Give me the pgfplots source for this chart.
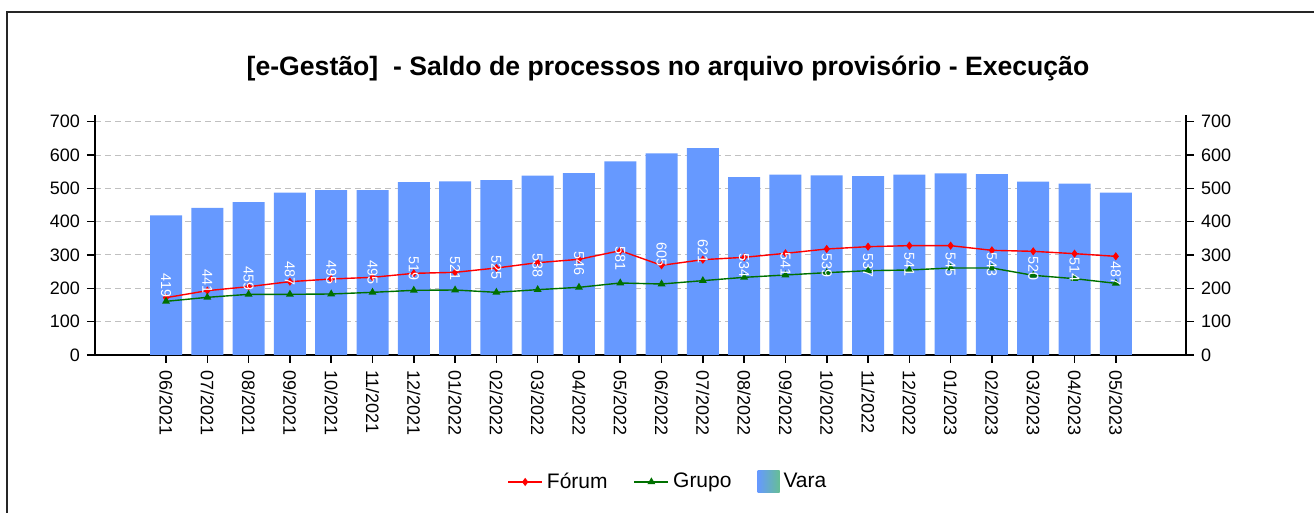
\documentclass[border=0pt]{standalone}
\usepackage{pgfplots}
\usepackage{pgfplotstable}
\pgfplotsset{compat=1.18}
\usepackage{fontspec}
\setmainfont{Liberation Sans}
\definecolor{vara}{RGB}{102,153,255}
\definecolor{varagreen}{RGB}{102,190,150}
\definecolor{grupo}{RGB}{0,112,0}
\definecolor{gridc}{RGB}{192,192,192}

\pgfplotstableread{
x v f g
0 419 172 161
1 441 193 173
2 459 205 182
3 487 220 182
4 495 228 183
5 495 233 188
6 519 245 194
7 521 248 195
8 525 261 188
9 538 277 196
10 546 287 203
11 581 313 216
12 605 269 213
13 621 286 223
14 534 293 233
15 541 305 240
16 539 318 247
17 537 325 253
18 541 328 255
19 545 328 261
20 543 314 261
21 520 311 239
22 514 304 229
23 487 296 215
}\data

\begin{document}
\begin{tikzpicture}
\useasboundingbox (0,0) rectangle (657pt,256.5pt);
\draw[line width=1pt, black!85] (3.5pt,0) -- (3.5pt,250.5pt) -- (657pt,250.5pt);
\node[font=\bfseries\fontsize{13.3}{15}\selectfont] at (334pt,222pt) {[e-Gestão]\ \ - Saldo de processos no arquivo provisório - Execução};
\begin{axis}[
 at={(47.5pt,79pt)}, anchor=south west, scale only axis,
 width=545.5pt, height=120pt,
 xmin=-1.72, xmax=24.7, ymin=0, ymax=720,
 axis x line*=bottom, axis y line*=left,
 xtick={0,...,23},
 xticklabels={06/2021,07/2021,08/2021,09/2021,10/2021,11/2021,12/2021,01/2022,02/2022,03/2022,04/2022,05/2022,06/2022,07/2022,08/2022,09/2022,10/2022,11/2022,12/2022,01/2023,02/2023,03/2023,04/2023,05/2023},
 ytick={0,100,...,700},
 ymajorgrids, major grid style={gridc, dash pattern=on 3pt off 2pt, line width=0.5pt},
 tick align=outside, major tick length=4pt, tick style={black, line width=0.8pt},
 axis line style={black, line width=0.9pt},
 ticklabel style={font=\fontsize{9}{10}\selectfont},
 xticklabel style={rotate=-90, anchor=west},
 /pgf/number format/assume math mode=true,
 legend style={at={(0.526,-0.529)}, anchor=center, draw=none, fill=none,
   font=\fontsize{10.5}{12}\selectfont, legend columns=3,
   /tikz/every even column/.append style={column sep=11pt}},
 clip=false,
]
\addplot[ybar, bar width=16pt, fill=vara, draw=none, forget plot] table[x=x, y=v] {\data};
\addplot[red, line width=0.7pt, mark=diamond*, mark size=1.5pt, forget plot] table[x=x, y=f] {\data};
\addplot[grupo, line width=0.7pt, mark=triangle*, mark size=1.6pt, forget plot] table[x=x, y=g] {\data};
\addplot[draw=none, mark=none, forget plot, nodes near coords, point meta=\thisrow{v},
  every node near coord/.append style={rotate=-90, anchor=center, white, font=\fontsize{7.2}{8}\selectfont}]
  table[x=x, y expr=\thisrow{v}/2] {\data};
\addlegendimage{red, line width=0.7pt, mark=diamond*, mark size=1.5pt}
\addlegendentry{Fórum}
\addlegendimage{grupo, line width=0.7pt, mark=triangle*, mark size=1.6pt}
\addlegendentry{Grupo}
\addlegendimage{draw=none, legend image code/.code={\path[draw=none, left color=vara, right color=varagreen] (0pt,-5.5pt) rectangle (11pt,5.5pt);}}
\addlegendentry{Vara}
\end{axis}
\begin{axis}[
 at={(47.5pt,79pt)}, anchor=south west, scale only axis,
 width=545.5pt, height=120pt,
 xmin=-1.72, xmax=24.7, ymin=0, ymax=720,
 axis x line=none, axis y line*=right,
 ytick={0,100,...,700},
 tick align=outside, major tick length=4pt, tick style={black, line width=0.8pt},
 axis line style={black, line width=0.9pt},
 ticklabel style={font=\fontsize{9}{10}\selectfont},
 /pgf/number format/assume math mode=true,
]
\addplot[draw=none, mark=none] coordinates {(0,0)};
\end{axis}
\end{tikzpicture}
\end{document}
